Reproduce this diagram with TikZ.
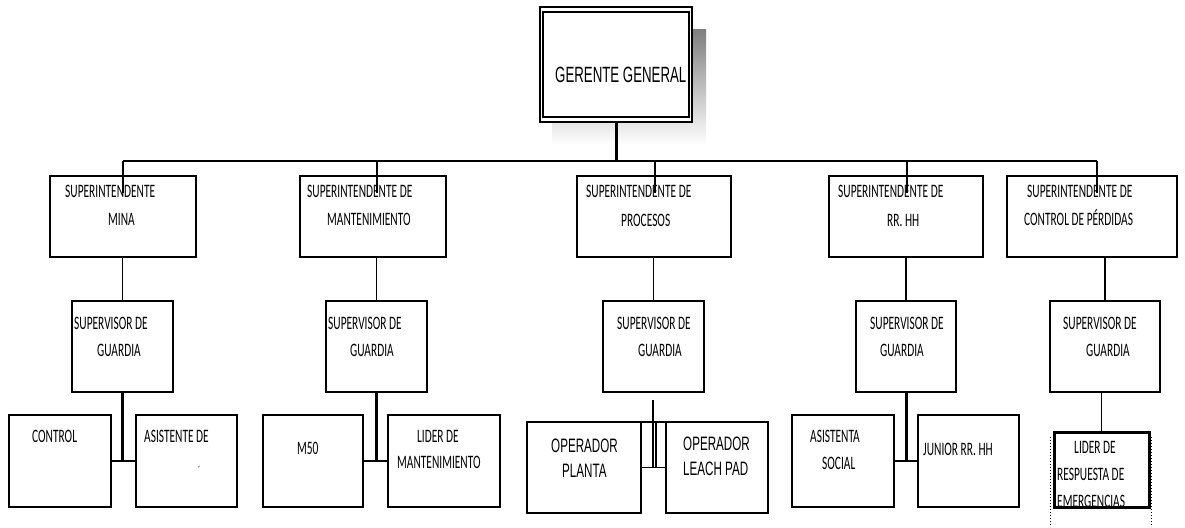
\documentclass[tikz,border=0pt]{standalone}
\usepackage{fontspec}
\newfontfamily\calfont[FakeStretch=0.6]{Carlito}
\newfontfamily\arifont[FakeStretch=0.6]{Liberation Sans}
\definecolor{shade}{RGB}{208,208,208}
\begin{document}
\begin{tikzpicture}[x=1pt,y=-1pt,
  box/.style={draw, line width=1.6pt, fill=white, inner sep=0pt, outer sep=0pt, rectangle},
  sz/.style 2 args={minimum width=#1pt, minimum height=#2pt},
  lbl/.style={anchor=base west, inner sep=0pt, font=\calfont\fontsize{19}{19}\selectfont},
  alb/.style={anchor=base west, inner sep=0pt, font=\arifont\fontsize{19.4}{19.4}\selectfont},
  bus/.style={line width=1.4pt},
  heavy/.style={line width=3pt},
  dots/.style={line width=1pt, dash pattern=on 1.2pt off 1.8pt}
]
\useasboundingbox (0,0) rectangle (1185,527);

% ---- general manager, with shadow and double frame
\node[box, sz={152}{115}, draw=none, fill=none] (ger) at (616,64.5) {};
\fill[shade] ([shift={(12,23)}]ger.north west) rectangle ([shift={(14,23)}]ger.south east);
\fill[white] (ger.north west) rectangle (ger.south east);
\draw[line width=1.5pt] (ger.north west) rectangle (ger.south east);
\draw[line width=1.5pt] ([shift={(3,5)}]ger.north west) rectangle ([shift={(-3,-5)}]ger.south east);
\node[anchor=base west, inner sep=0pt, font=\arifont\fontsize{22.1}{22}\selectfont] (gerT) at (555,82) {GERENTE GENERAL};

% ---- superintendents
\node[box, sz={146}{81}] (sMina) at (123,216.5) {};
\node[box, sz={146}{81}] (sMant) at (373,216.5) {};
\node[box, sz={154}{81}] (sProc) at (654,216.5) {};
\node[box, sz={154}{81}] (sRRHH) at (906,216.5) {};
\node[box, sz={170}{81}] (sCP) at (1092,216.5) {};

% ---- supervisors
\node[box, sz={101}{91}] (vMina) at (122.5,346.5) {};
\node[box, sz={101}{91}] (vMant) at (376.5,346.5) {};
\node[box, sz={101}{91}] (vProc) at (653.5,346.5) {};
\node[box, sz={100}{91}] (vRRHH) at (906,346.5) {};
\node[box, sz={110}{91}] (vCP) at (1105,346.5) {};

% ---- staff
\node[box, sz={102}{92}] (control) at (60,461) {};
\node[box, sz={101}{92}] (asist) at (186.5,461) {};
\node[box, sz={100}{92}] (m50) at (313,461) {};
\node[box, sz={112}{92}] (liderM) at (444,461) {};
\node[box, sz={114}{91}] (opPlanta) at (584,467.5) {};
\node[box, sz={102}{91}] (opLeach) at (717,467.5) {};
\node[box, sz={102}{92}] (asistS) at (843,461) {};
\node[box, sz={101}{92}] (junior) at (968.5,461) {};
\node[box, sz={95}{75}, draw=none] (liderR) at (1101.5,469.5) {};

% ---- bus from the general manager
\foreach \n/\x in {t1/123,t2/377,t3/655,t4/907,t5/1097}
  \coordinate (\n) at (\x,161);
\draw[heavy] (ger.south) -- (ger.south |- t1);
\draw[bus] (t1) -- (t5);
\foreach \n in {t1,t2,t3,t4,t5}
  \draw[bus] (\n) -- ++(0,32);

% ---- superintendent to supervisor
\foreach \s/\v in {sMina/vMina,sMant/vMant,sProc/vProc,sRRHH/vRRHH,sCP/vCP}
  \draw[bus] (\v.north |- \s.south) -- (\v.north);

% ---- supervisor to staff
\draw[heavy] (vMina.south) -- (vMina.south |- control.east);
\draw[bus] (control.east) -- (asist.west);
\draw[heavy] (vMant.south) -- (vMant.south |- m50.east);
\draw[bus] (m50.east) -- (liderM.west);
\draw[heavy] (vRRHH.south) -- (vRRHH.south |- asistS.east);
\draw[bus] (asistS.east) -- (junior.west);

\coordinate (pTop) at (653,400);
\draw[line width=1.2pt] (pTop) -- (pTop |- opPlanta.east);
\draw[line width=1.2pt] (opPlanta.north east) -- (opLeach.north west);
\draw[line width=1.2pt] (opPlanta.east) -- (opLeach.west);
\draw[line width=1.2pt] ([xshift=3pt]pTop |- opPlanta.north east) -- ([xshift=3pt]pTop |- opPlanta.east);

\draw[bus] (vCP.south -| liderR.north) -- (liderR.north);

% ---- texts
\node[lbl] (tx1) at (65,197) {SUPERINTENDENTE};
\node[lbl] (tx2) at (108,225) {MINA};
\node[lbl] (tx3) at (307,197) {SUPERINTENDENTE DE};
\node[lbl] (tx4) at (327,225) {MANTENIMIENTO};
\node[lbl] (tx5) at (586,197) {SUPERINTENDENTE DE};
\node[lbl] (tx6) at (621,226) {PROCESOS};
\node[lbl] (tx7) at (838,197) {SUPERINTENDENTE DE};
\node[lbl] (tx8) at (887,226) {RR. HH};
\node[lbl] (tx9) at (1027,197) {SUPERINTENDENTE DE};
\node[lbl] (tx10) at (1024,225) {CONTROL DE PÉRDIDAS};

\foreach \i/\a/\b in {1/74/97,2/328/350,3/617/638,4/870/880,5/1063/1086}{
  \node[lbl] (sv\i) at (\a,329) {SUPERVISOR DE};
  \node[lbl] (gd\i) at (\b,356) {GUARDIA};
}

\node[lbl] (tControl) at (32,442) {CONTROL};
\node[lbl] (tAsist) at (144,442) {ASISTENTE DE};
\node[lbl, font=\calfont\fontsize{12}{12}\selectfont] (tMark) at (198,474) {´};
\node[lbl] (tM50) at (297,454) {M50};
\node[lbl] (tLid1) at (417,442) {LIDER DE};
\node[lbl] (tLid2) at (397,468) {MANTENIMIENTO};
\node[alb] (tOp1) at (551,452) {OPERADOR};
\node[alb] (tOp2) at (562,477) {PLANTA};
\node[alb] (tOp3) at (683,450) {OPERADOR};
\node[alb] (tOp4) at (683,475) {LEACH PAD};
\node[lbl] (tAs1) at (810,442) {ASISTENTA};
\node[lbl] (tAs2) at (822,469) {SOCIAL};
\node[lbl] (tJun) at (923,455) {JUNIOR RR. HH};

% ---- emergency leader: text clipped by its heavy frame, dotted guides
\begin{scope}
  \clip (liderR.north west) rectangle (liderR.south east);
  \node[lbl] (tR1) at (1074,453) {LIDER DE};
  \node[lbl] (tR2) at (1057,480) {RESPUESTA DE};
  \node[lbl] (tR3) at (1057,507) {EMERGENCIAS};
\end{scope}
\draw[line width=3pt] (liderR.north west) rectangle (liderR.south east);
\coordinate (dL) at (1050,437);
\coordinate (dR) at (1151,437);
\draw[dots] (dL) -- ++(0,90);
\draw[dots] (dR) -- ++(0,90);
\end{tikzpicture}
\end{document}
